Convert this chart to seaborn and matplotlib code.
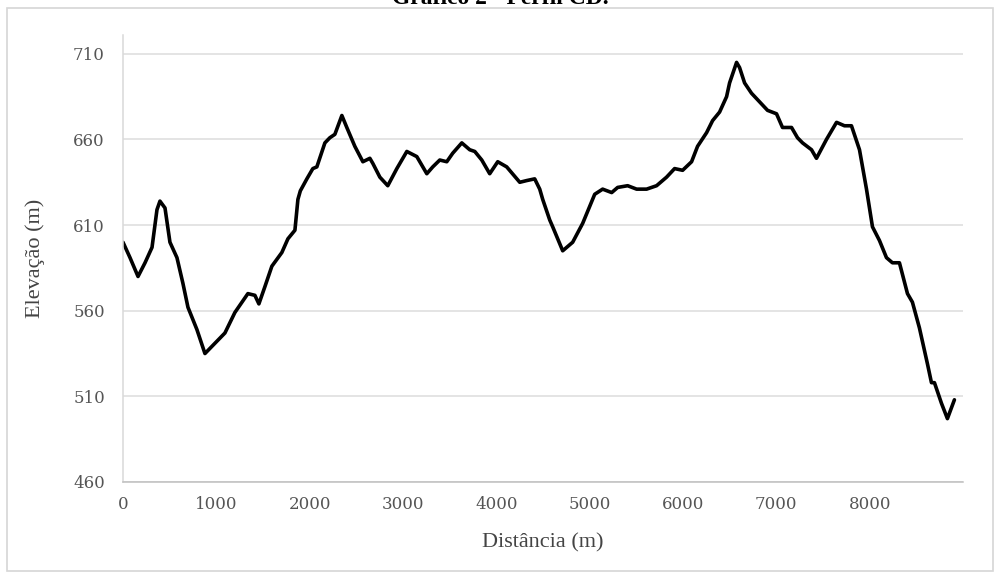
import matplotlib
matplotlib.use("Agg")
import matplotlib.pyplot as plt
import matplotlib.patches as mpatches
import pandas as pd
import seaborn as sns

# Elevation profile along section CD
distancia = [0, 75, 161, 236, 311, 364, 396, 450, 503, 578, 642, 696, 792, 878,
             985, 1092, 1199, 1338, 1413, 1456, 1520, 1595, 1702, 1767, 1842,
             1874, 1900, 1970, 2034, 2077, 2163, 2216, 2270, 2345, 2398, 2484,
             2570, 2645, 2677, 2752, 2837, 2934, 3041, 3148, 3255, 3319, 3394,
             3469, 3533, 3630, 3715, 3769, 3844, 3929, 4015, 4111, 4251, 4325,
             4411, 4465, 4497, 4572, 4604, 4711, 4818, 4925, 5054, 5139, 5236,
             5300, 5407, 5503, 5610, 5717, 5824, 5910, 5996, 6092, 6156, 6253,
             6317, 6392, 6467, 6499, 6574, 6606, 6660, 6734, 6820, 6906, 7002,
             7066, 7163, 7227, 7281, 7377, 7430, 7537, 7645, 7730, 7805, 7891,
             7966, 8030, 8105, 8180, 8244, 8319, 8405, 8458, 8533, 8619, 8662,
             8694, 8769, 8833, 8908]
elevacao = [600, 591, 580, 588, 597, 619, 624, 620, 600, 591, 576, 562, 549, 535,
            541, 547, 559, 570, 569, 564, 574, 586, 594, 602, 607,
            625, 630, 637, 643, 644, 658, 661, 663, 674, 667, 656,
            647, 649, 646, 638, 633, 643, 653, 650, 640, 644, 648,
            647, 652, 658, 654, 653, 648, 640, 647, 644, 635, 636,
            637, 631, 625, 613, 609, 595, 600, 611, 628, 631, 629,
            632, 633, 631, 631, 633, 638, 643, 642, 647, 656, 664,
            671, 676, 685, 693, 705, 702, 693, 687, 682, 677, 675,
            667, 667, 661, 658, 654, 649, 660, 670, 668, 668, 654,
            631, 609, 601, 591, 588, 588, 570, 565, 550, 529, 518,
            518, 506, 497, 508]

x_ticks = list(range(0, 9000, 1000))
y_ticks = list(range(460, 711, 50))

titulo = "Gráfico 2 - Perfil CD."
rotulo_x = "Distância (m)"
rotulo_y = "Elevação (m)"

sns.set_style("white")
plt.rcParams["font.family"] = ["Liberation Serif", "DejaVu Serif"]

W, H = 1001, 579
fig = plt.figure(figsize=(W / 100, H / 100), dpi=100)
fig.patch.set_facecolor("white")

# outer frame of the chart area
fig.patches.append(mpatches.Rectangle((7 / W, 1 - 571 / H), 986 / W, 563 / H,
                                      transform=fig.transFigure, fill=False,
                                      edgecolor="#d6d6d6", linewidth=1.2))

ax = fig.add_axes([123 / W, 1 - 482 / H, 840 / W, 447 / H])

df = pd.DataFrame({"distancia": distancia, "elevacao": elevacao})
sns.lineplot(data=df, x="distancia", y="elevacao", ax=ax, sort=False,
             color="black", linewidth=2.6, solid_joinstyle="round")

ax.set_xlim(0, 9000)
ax.set_ylim(460, 721)
ax.set_xticks(x_ticks)
ax.set_yticks(y_ticks)
ax.set_xticklabels([str(v) for v in x_ticks])
ax.set_yticklabels([str(v) for v in y_ticks])

ax.grid(axis="y", color="#dcdcdc", linewidth=1.1)
ax.grid(axis="x", visible=False)
ax.set_axisbelow(True)

for side in ["top", "right"]:
    ax.spines[side].set_visible(False)
ax.spines["left"].set_color("#d9d9d9")
ax.spines["left"].set_linewidth(1.1)
ax.spines["bottom"].set_color("#bfbfbf")
ax.spines["bottom"].set_linewidth(1.1)

ax.tick_params(axis="both", length=0, labelsize=12, labelcolor="#555555",
               labelfontfamily="DejaVu Serif")
ax.tick_params(axis="y", pad=13)
ax.tick_params(axis="x", pad=10)

ax.set_xlabel(rotulo_x, fontsize=16, color="#444444", labelpad=15)
ax.set_ylabel(rotulo_y, fontsize=16, color="#444444", labelpad=20)

fig.text(0.5, 1 - 4 / H, titulo, ha="center", va="baseline",
         fontsize=17, fontweight="bold", color="black")

fig.savefig("out.png", dpi=100, facecolor="white")
